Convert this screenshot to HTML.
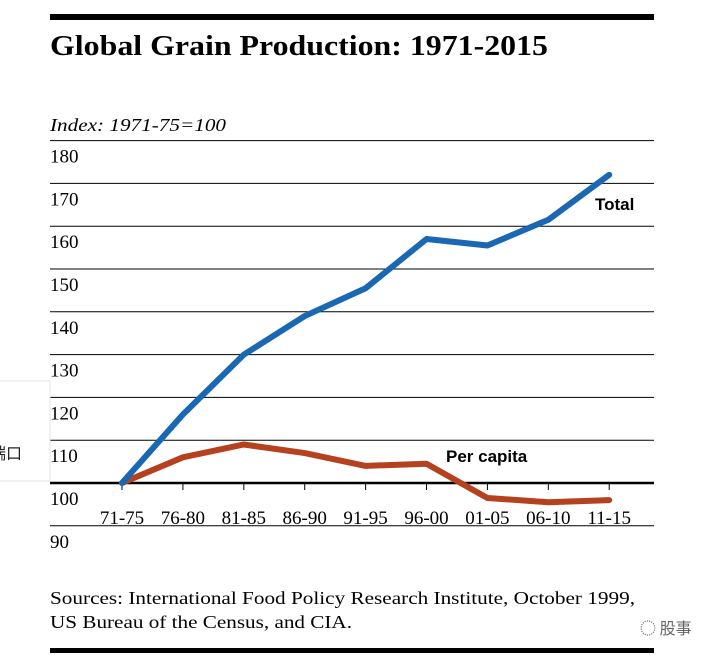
<!DOCTYPE html>
<html><head><meta charset="utf-8"><style>
body{margin:0;width:726px;height:660px;background:#fff;position:relative;overflow:hidden;font-family:"Liberation Serif",serif}
svg{position:absolute;left:0;top:0}
</style></head><body>
<svg width="726" height="660" id="c">
<rect x="50" y="14" width="604" height="6" fill="#000"/>
<text x="50" y="55" font-family="Liberation Serif" font-weight="bold" font-size="28" textLength="498" lengthAdjust="spacingAndGlyphs">Global Grain Production: 1971-2015</text>
<text x="50" y="131" font-family="Liberation Serif" font-style="italic" font-size="18" textLength="176" lengthAdjust="spacingAndGlyphs">Index: 1971-75=100</text>
<g id="grid"></g><g id="ylab"></g><g id="xlab"></g><g id="series"></g>
<text x="595" y="210" font-family="Liberation Sans" font-weight="bold" font-size="17">Total</text>
<text x="446" y="462" font-family="Liberation Sans" font-weight="bold" font-size="17">Per capita</text>
<text x="50" y="604" font-family="Liberation Serif" font-size="18" textLength="585" lengthAdjust="spacingAndGlyphs">Sources: International Food Policy Research Institute, October 1999,</text>
<text x="50" y="628" font-family="Liberation Serif" font-size="18" textLength="302" lengthAdjust="spacingAndGlyphs">US Bureau of the Census, and CIA.</text>
<rect x="50" y="648" width="604" height="5" fill="#000"/>
<text x="640" y="634" font-family="Noto Sans CJK SC" font-size="16" fill="#666">◌ 股事</text>
<rect x="-5" y="381" width="55" height="100" fill="#fff" stroke="#e4e4e4"/>
<text x="-10" y="459" font-family="Noto Sans CJK SC" font-size="16" fill="#222">端口</text>
</svg>
<script>
const categories=["71-75","76-80","81-85","86-90","91-95","96-00","01-05","06-10","11-15"];
const totalValues=[100,116,130,139,145.5,157,155.5,161.5,172];
const perCapitaValues=[100,106,109,107,104,104.5,96.5,95.5,96];
const yTicks=[180,170,160,150,140,130,120,110,100,90];
const NS="http://www.w3.org/2000/svg";
const y=v=>483-(v-100)*4.28;
const x=i=>122+i*60.9;
function mk(tag,attrs,parent){const e=document.createElementNS(NS,tag);for(const k in attrs)e.setAttribute(k,attrs[k]);document.getElementById(parent).appendChild(e);return e;}
yTicks.forEach(t=>{
 const l=mk('line',{x1:50,x2:654,y1:y(t),y2:y(t),stroke:'#000','stroke-width':t===100?2.5:1},'grid');
 
 
 const tx=mk('text',{x:50,y:y(t)+22,'font-size':19,'font-family':'Liberation Serif'},'ylab');
 tx.textContent=t;
 
 
});
categories.forEach((c,i)=>{
 const tk=mk('line',{x1:x(i),x2:x(i),y1:483,y2:490,stroke:'#000','stroke-width':1},'xlab');
 
 
 const tx=mk('text',{x:x(i),y:524,'font-size':19,'font-family':'Liberation Serif','text-anchor':'middle'},'xlab');
 tx.textContent=c;
 
 
});
function line(vals,color,name){
 const p=mk('polyline',{points:vals.map((v,i)=>x(i)+','+y(v)).join(' '),fill:'none',stroke:color,'stroke-width':6,'stroke-linejoin':'round','stroke-linecap':'round'},'series');
 
 
}
line(perCapitaValues,'#b5411f','per-capita-line');
line(totalValues,'#1a67b3','total-line');
</script>
</body></html>
